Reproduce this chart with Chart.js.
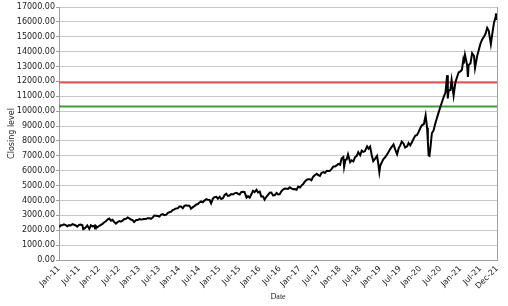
<!DOCTYPE html>
<html>
<head>
<meta charset="utf-8">
<script src="https://cdn.jsdelivr.net/npm/chart.js@4"></script>
<style>
  html, body { margin: 0; padding: 0; background: #fff; }
  #wrap { width: 508px; height: 306px; }
</style>
</head>
<body>
<div id="wrap"><canvas id="closingChart" width="508" height="306"></canvas></div>
<script>
// closing levels, roughly two readings per month
var dates = [
  // 2011
  "2011-01-03","2011-01-18","2011-02-01","2011-02-15","2011-03-01","2011-03-16","2011-04-01","2011-04-15","2011-05-02","2011-05-16","2011-06-01","2011-06-15","2011-07-01","2011-07-15","2011-08-01","2011-08-08","2011-08-19","2011-09-01","2011-09-15","2011-10-03","2011-10-17","2011-11-01","2011-11-15","2011-11-25","2011-12-01","2011-12-15",
  // 2012
  "2012-01-03","2012-01-17","2012-02-01","2012-02-15","2012-03-01","2012-03-15","2012-04-02","2012-04-16","2012-05-01","2012-05-15","2012-06-01","2012-06-15","2012-07-02","2012-07-16","2012-08-01","2012-08-15","2012-09-04","2012-09-17","2012-10-01","2012-10-15","2012-11-01","2012-11-15","2012-12-03","2012-12-17",
  // 2013
  "2013-01-02","2013-01-15","2013-02-01","2013-02-15","2013-03-01","2013-03-15","2013-04-01","2013-04-15","2013-05-01","2013-05-15","2013-06-03","2013-06-17","2013-07-01","2013-07-15","2013-08-01","2013-08-15","2013-09-03","2013-09-16","2013-10-01","2013-10-15","2013-11-01","2013-11-15","2013-12-02","2013-12-16",
  // 2014
  "2014-01-02","2014-01-15","2014-02-01","2014-02-15","2014-03-01","2014-03-15","2014-04-01","2014-04-15","2014-05-01","2014-05-15","2014-06-03","2014-06-17","2014-07-01","2014-07-15","2014-08-01","2014-08-15","2014-09-03","2014-09-16","2014-10-01","2014-10-15","2014-11-01","2014-11-15","2014-12-02","2014-12-16",
  // 2015
  "2015-01-02","2015-01-15","2015-02-01","2015-02-15","2015-03-01","2015-03-15","2015-04-01","2015-04-15","2015-05-01","2015-05-15","2015-06-03","2015-06-17","2015-07-01","2015-07-15","2015-08-01","2015-08-15","2015-09-03","2015-09-16","2015-10-01","2015-10-15","2015-11-01","2015-11-15","2015-12-02","2015-12-16",
  // 2016
  "2016-01-02","2016-01-15","2016-02-01","2016-02-15","2016-03-01","2016-03-15","2016-04-01","2016-04-15","2016-05-01","2016-05-15","2016-06-03","2016-06-17","2016-07-01","2016-07-15","2016-08-01","2016-08-15","2016-09-03","2016-09-16","2016-10-01","2016-10-15","2016-11-01","2016-11-15","2016-12-02","2016-12-16",
  // 2017
  "2017-01-02","2017-01-15","2017-02-01","2017-02-15","2017-03-01","2017-03-15","2017-04-01","2017-04-15","2017-05-01","2017-05-15","2017-06-03","2017-06-17","2017-07-01","2017-07-15","2017-08-01","2017-08-15","2017-09-03","2017-09-16","2017-10-01","2017-10-15","2017-11-01","2017-11-15","2017-12-02","2017-12-16",
  // 2018
  "2018-01-02","2018-01-16","2018-02-01","2018-02-08","2018-02-20","2018-03-01","2018-03-13","2018-04-02","2018-04-16","2018-05-01","2018-05-15","2018-06-01","2018-06-15","2018-07-02","2018-07-16","2018-08-01","2018-08-15","2018-09-04","2018-09-17","2018-10-01","2018-10-15","2018-10-29","2018-11-15","2018-12-03","2018-12-14","2018-12-24",
  // 2019
  "2019-01-02","2019-01-15","2019-02-01","2019-02-15","2019-03-01","2019-03-15","2019-04-01","2019-04-15","2019-05-01","2019-05-15","2019-06-03","2019-06-17","2019-07-01","2019-07-15","2019-08-01","2019-08-15","2019-09-03","2019-09-16","2019-10-01","2019-10-15","2019-11-01","2019-11-15","2019-12-02","2019-12-16",
  // 2020
  "2020-01-02","2020-01-15","2020-02-03","2020-02-19","2020-03-02","2020-03-09","2020-03-16","2020-03-23","2020-04-01","2020-04-15","2020-05-01","2020-05-15","2020-06-01","2020-06-15","2020-07-01","2020-07-15","2020-08-03","2020-08-17","2020-09-02","2020-09-08","2020-09-15","2020-10-01","2020-10-12","2020-10-30","2020-11-16","2020-12-01","2020-12-15",
  // 2021
  "2021-01-04","2021-01-15","2021-01-26","2021-02-01","2021-02-12","2021-03-01","2021-03-08","2021-03-15","2021-04-01","2021-04-16","2021-05-03","2021-05-12","2021-06-01","2021-06-15","2021-07-01","2021-07-15","2021-08-02","2021-08-16","2021-09-01","2021-09-15","2021-10-04","2021-10-15","2021-11-01","2021-11-15","2021-11-19","2021-11-30"
];
var closes = [
  2218,2330,2330,2390,2340,2270,2340,2320,2410,2370,2320,2240,2360,2380,2330,2080,2110,2200,2320,2090,2330,2260,2300,2120,2290,2200,
  2300,2360,2430,2520,2600,2720,2780,2640,2700,2560,2450,2540,2620,2580,2640,2740,2780,2860,2800,2720,2680,2550,2680,2680,
  2750,2720,2740,2760,2750,2810,2810,2770,2850,2990,2980,2960,2920,3040,3080,3010,3050,3150,3220,3240,3360,3400,3470,3480,
  3590,3600,3480,3640,3680,3640,3650,3450,3550,3620,3730,3760,3870,3940,3880,3990,4090,4050,4040,3800,4120,4220,4250,4120,
  4240,4100,4150,4350,4450,4310,4330,4430,4410,4480,4510,4440,4400,4560,4590,4560,4190,4290,4190,4400,4650,4560,4720,4540,
  4590,4270,4270,4050,4250,4380,4520,4530,4340,4350,4500,4400,4420,4620,4740,4800,4790,4780,4880,4810,4760,4770,4720,4930,
  4870,5000,5100,5260,5380,5420,5430,5360,5600,5700,5800,5700,5650,5850,5900,5850,5990,5980,6000,6110,6280,6280,6360,6460,
  6400,6830,6920,6250,6730,6760,7100,6580,6700,6620,6900,7000,7250,7040,7350,7270,7320,7640,7480,7620,7070,6650,6800,7000,6500,5900,
  6330,6550,6780,6900,7060,7240,7450,7600,7770,7450,7100,7500,7700,7960,7830,7560,7640,7860,7700,7900,8140,8350,8400,8600,
  8870,9050,9130,9720,8880,7950,7020,6990,7490,8520,8720,9150,9560,9900,10280,10600,11000,11250,12420,10850,11400,11420,12090,11050,11940,12300,12600,
  12690,12800,13400,13200,13800,13100,12300,13100,13200,13900,13700,12900,13700,14100,14550,14800,15000,15200,15600,15400,14500,15100,15900,16300,16570,16140
];

// reference levels
var upperLevel = 11930;
var lowerLevel = 10320;

var tickLabels = ["Jan-11","Jul-11","Jan-12","Jul-12","Jan-13","Jul-13","Jan-14","Jul-14","Jan-15","Jul-15","Jan-16",
                  "Jul-16","Jan-17","Jul-17","Jan-18","Jul-18","Jan-19","Jul-19","Jan-20","Jul-20","Jan-21","Jul-21","Dec-21"];
var tickDates = ["2011-01-01","2011-07-01","2012-01-01","2012-07-01","2013-01-01","2013-07-01","2014-01-01","2014-07-01","2015-01-01","2015-07-01","2016-01-01",
                 "2016-07-01","2017-01-01","2017-07-01","2018-01-01","2018-07-01","2019-01-01","2019-07-01","2020-01-01","2020-07-01","2021-01-01","2021-07-01","2021-12-01"];

// months since Jan 2011
function monthPos(s) {
  var p = s.split("-");
  return (parseInt(p[0]) - 2011) * 12 + (parseInt(p[1]) - 1) + (parseInt(p[2]) - 1) / 30;
}

var points = dates.map(function (d, i) { return { x: monthPos(d), y: closes[i] }; });
var xMin = monthPos(tickDates[0]);
var xMax = monthPos(tickDates[tickDates.length - 1]);
var tickPos = tickDates.map(monthPos);

var ctx = document.getElementById("closingChart");
var chart = new Chart(ctx, {
  type: "line",
  data: {
    datasets: [
      {
        data: points,
        borderColor: "#000000",
        borderWidth: 2,
        pointRadius: 0,
        tension: 0
      },
      {
        data: [{ x: xMin, y: upperLevel }, { x: xMax, y: upperLevel }],
        borderColor: "#e25858",
        borderWidth: 2,
        pointRadius: 0
      },
      {
        data: [{ x: xMin, y: lowerLevel }, { x: xMax, y: lowerLevel }],
        borderColor: "#3d9a3d",
        borderWidth: 2,
        pointRadius: 0
      }
    ]
  },
  options: {
    responsive: false,
    animation: false,
    layout: { padding: { top: 7, right: 9, left: 0, bottom: 0 } },
    plugins: {
      legend: { display: false },
      tooltip: { enabled: false }
    },
    scales: {
      x: {
        type: "linear",
        min: xMin,
        max: xMax,
        afterFit: function (scale) { scale.height = 46; },
        afterBuildTicks: function (scale) {
          scale.ticks = tickPos.map(function (v) { return { value: v }; });
        },
        grid: { display: false, drawTicks: false },
        border: { color: "#a0a0a0" },
        ticks: {
          autoSkip: false,
          minRotation: 45,
          maxRotation: 45,
          padding: 4,
          color: "#222",
          font: { family: "DejaVu Sans", size: 8 },
          callback: function (v, i) { return tickLabels[i]; }
        },
        title: {
          display: true,
          text: "Date",
          color: "#222",
          font: { family: "Liberation Serif", size: 8 },
          padding: { top: 0, bottom: 4 }
        }
      },
      y: {
        min: 0,
        max: 17000,
        afterFit: function (scale) { scale.width = 59; },
        grid: { color: "#c8c8c8", tickLength: 3, tickColor: "#a0a0a0" },
        border: { color: "#a0a0a0" },
        ticks: {
          stepSize: 1000,
          padding: 1,
          color: "#222",
          font: { family: "DejaVu Sans", size: 8 },
          callback: function (v) { return v.toFixed(2); }
        },
        title: {
          display: true,
          text: "Closing level",
          color: "#222",
          font: { family: "DejaVu Sans", size: 8 },
          padding: { top: 7, bottom: 0 }
        }
      }
    }
  },
  plugins: [
    {
      afterDraw: function (chart) {
        var a = chart.chartArea, c = chart.ctx;
        c.save();
        c.strokeStyle = "#a0a0a0";
        c.lineWidth = 1;
        c.beginPath();
        c.moveTo(Math.round(a.right) + 0.5, a.top);
        c.lineTo(Math.round(a.right) + 0.5, a.bottom);
        c.stroke();
        c.restore();
      }
    }
  ]
});
</script>
</body>
</html>
